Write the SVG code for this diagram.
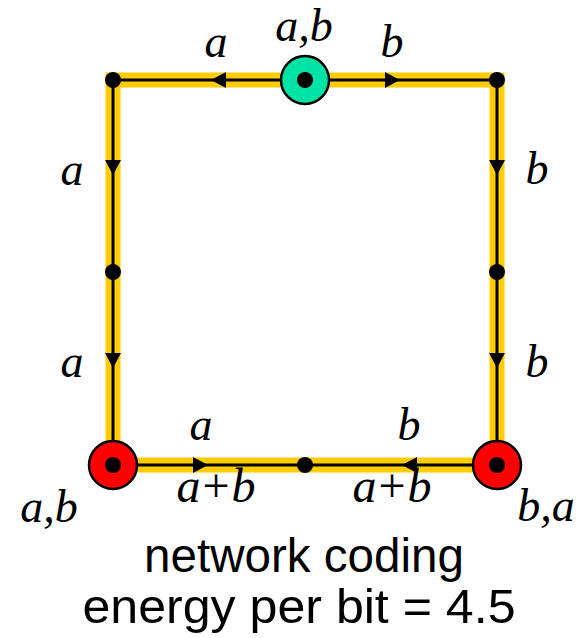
<svg xmlns="http://www.w3.org/2000/svg" width="580" height="638" viewBox="0 0 580 638">
<style>
.band{fill:none;stroke:#FFCC00;stroke-width:15;stroke-linejoin:miter}
.edge{fill:none;stroke:#000;stroke-width:3;marker-mid:url(#arr)}
.dot{fill:#000}
.ring{stroke:#000;stroke-width:2.5}
.lbl{font-family:"Liberation Serif","Times New Roman",serif;font-style:italic;font-size:46px;fill:#000;text-anchor:middle}
.sum{font-size:48px;letter-spacing:2px}
.up{font-style:normal}
.cap{font-family:"Liberation Sans",Arial,sans-serif;font-size:48px;fill:#000;text-anchor:middle}
</style>
<defs>
<marker id="arr" viewBox="0 0 15 16" refX="15" refY="8" markerWidth="15" markerHeight="16" markerUnits="userSpaceOnUse" orient="auto">
<path d="M0,0 L15,8 L0,16 z" fill="#000"/>
</marker>
</defs>
<rect width="580" height="638" fill="#fff"/>
<g id="connectors">
<rect class="band" x="113" y="80" width="384" height="385"/>
<path class="edge" d="M305,80 L211,80 L113,80"/>
<path class="edge" d="M305,80 L400,80 L497,80"/>
<path class="edge" d="M113,80 L113,175 L113,272"/>
<path class="edge" d="M113,272 L113,368 L113,465"/>
<path class="edge" d="M497,80 L497,175 L497,272"/>
<path class="edge" d="M497,272 L497,368 L497,465"/>
<path class="edge" d="M113,465 L208,465 L305,465"/>
<path class="edge" d="M497,465 L402,465 L305,465"/>
</g>
<g id="source"><circle class="ring" cx="305" cy="80" r="24" fill="#00E3A6"/><circle class="dot" cx="305" cy="80" r="8"/></g>
<g id="n-topleft"><circle class="dot" cx="113" cy="80" r="8"/></g>
<g id="n-topright"><circle class="dot" cx="497" cy="80" r="8"/></g>
<g id="n-midleft"><circle class="dot" cx="113" cy="272" r="8"/></g>
<g id="n-midright"><circle class="dot" cx="497" cy="272" r="8"/></g>
<g id="n-bottommid"><circle class="dot" cx="305" cy="465" r="8"/></g>
<g id="sink-left"><circle class="ring" cx="113" cy="465" r="24" fill="#FF0000"/><circle class="dot" cx="113" cy="465" r="8"/></g>
<g id="sink-right"><circle class="ring" cx="497" cy="465" r="24" fill="#FF0000"/><circle class="dot" cx="497" cy="465" r="8"/></g>
<g id="labels">
<text class="lbl" x="216" y="57">a</text>
<text class="lbl" x="304" y="41">a,b</text>
<text class="lbl" x="392" y="57">b</text>
<text class="lbl" x="72" y="185">a</text>
<text class="lbl" x="72" y="377">a</text>
<text class="lbl" x="537" y="184">b</text>
<text class="lbl" x="537" y="377">b</text>
<text class="lbl" x="201" y="440">a</text>
<text class="lbl" x="409" y="440">b</text>
<text class="lbl sum" x="217" y="502">a<tspan class="up">+</tspan>b</text>
<text class="lbl sum" x="393" y="502">a<tspan class="up">+</tspan>b</text>
<text class="lbl" x="49" y="522">a,b</text>
<text class="lbl" x="546" y="521">b,a</text>
<text class="cap" x="304" y="572" textLength="320" lengthAdjust="spacingAndGlyphs">network coding</text>
<text class="cap" x="299" y="623" textLength="433" lengthAdjust="spacingAndGlyphs">energy per bit = 4.5</text>
</g>
</svg>
